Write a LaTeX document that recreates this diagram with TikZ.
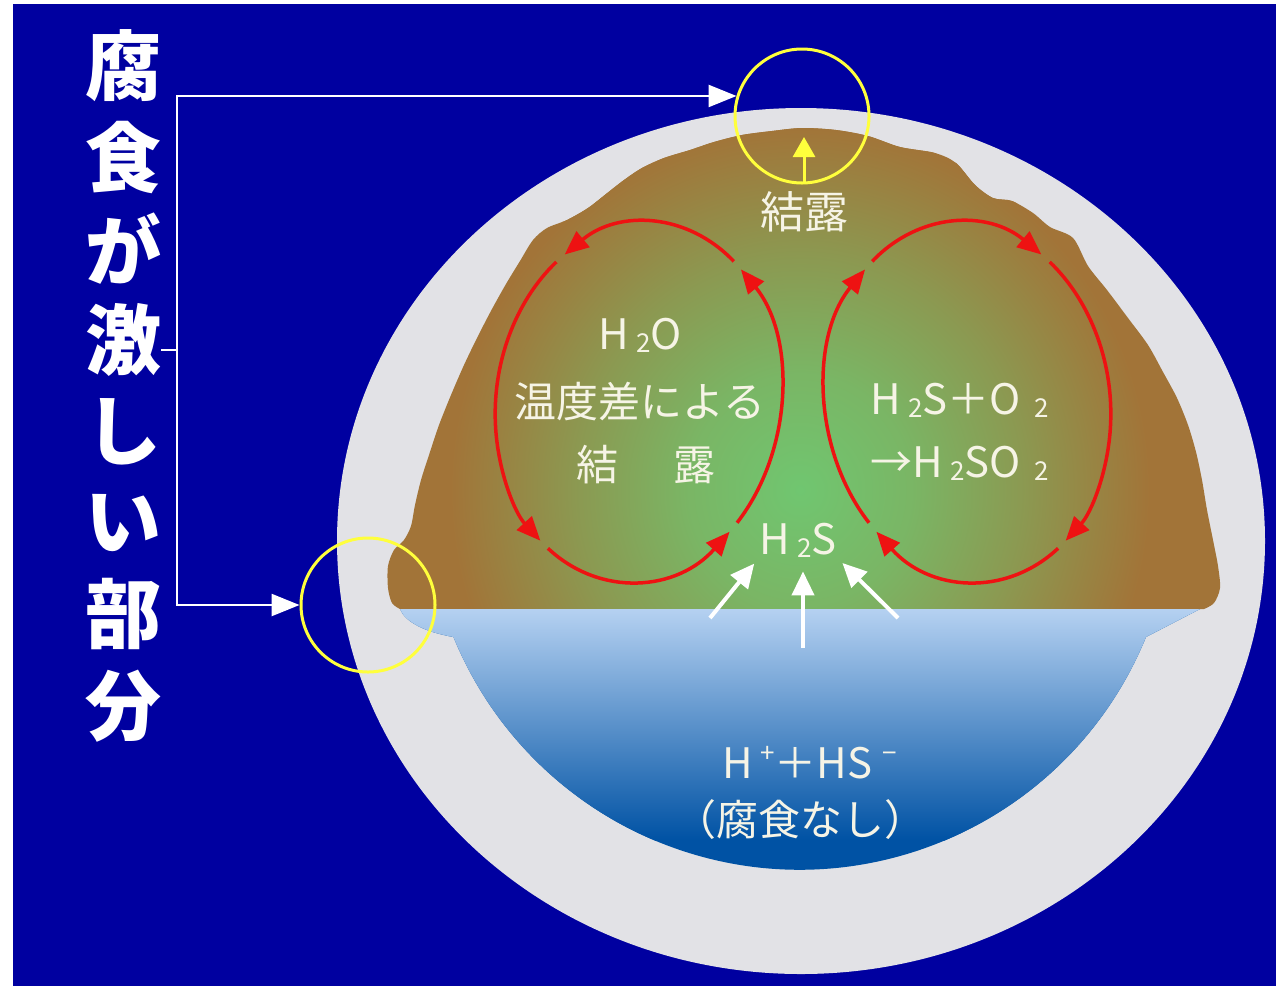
\documentclass[tikz,border=0pt]{standalone}
\usepackage{fontspec}
\newfontfamily\jp{Noto Sans CJK JP}
\usetikzlibrary{arrows.meta}

\definecolor{night}{RGB}{0,0,160}
\definecolor{wall}{RGB}{226,226,230}
\definecolor{rust}{RGB}{162,116,56}
\definecolor{moss}{RGB}{112,198,112}
\definecolor{shallow}{RGB}{188,214,244}
\definecolor{deep}{RGB}{0,82,164}
\definecolor{flow}{RGB}{238,18,18}
\definecolor{halo}{RGB}{255,255,60}
\definecolor{chalk}{RGB}{246,244,230}

% green glow fading into the brown crust
\pgfdeclareradialshading{glow}{\pgfpoint{0bp}{0bp}}{color(0bp)=(moss);
  color(8bp)=(moss!80!rust); color(16bp)=(moss!45!rust); color(25bp)=(rust);
  color(50bp)=(rust)}

% small digits and charges beside the letters
\newcommand\lowsub[1]{\raisebox{-3pt}{\fontsize{26}{26}\selectfont #1}}
\newcommand\highsup[1]{\raisebox{16pt}{\fontsize{26}{26}\selectfont #1}}

\begin{document}
\begin{tikzpicture}[x=1pt, y=-1pt,
  note/.style = {text=chalk, inner sep=0pt, font=\jp\fontsize{42}{48}\selectfont},
  side/.style = {text=white, inner sep=0pt, font=\jp\bfseries\fontsize{76}{80}\selectfont},
  spot/.style = {circle, draw=halo, line width=3pt, minimum size=134pt, inner sep=0pt},
  redflow/.style = {draw=flow, line width=3.5pt, -{Triangle[length=24pt,width=20pt]}},
  rise/.style = {draw=white, line width=4pt, -{Triangle[length=24pt,width=22pt]}},
  lift/.style = {draw=halo, line width=3pt, -{Triangle[length=20pt,width=22pt]}},
  link/.style = {draw=white, line width=2.5pt}]
\useasboundingbox (0,0) rectangle (1276,986);
\fill[white] (0,0) rectangle (1276,986);
\fill[night] (13,4) rectangle (1276,986);

% pipe wall
\fill[wall] (801,541) ellipse (464 and 433);

% air space under the corroded crown
\begin{scope}
  \clip plot[smooth, tension=0.5] coordinates {(400,609) (392,603) (388,588) (388,566)
    (394,550) (404,540) (411,526) (415,505) (421,480) (429,455) (439,425) (451,395)
    (464,365) (478,336) (492,309) (506,284) (520,261) (533,240) (547,228) (567,220)
    (588,208) (606,194) (624,180) (642,168) (664,158) (690,150) (714,142) (742,135)
    (772,131) (802,128) (836,130) (868,136) (900,147) (935,153) (956,163) (975,185)
    (993,198) (1012,201) (1033,213) (1050,227) (1073,238) (1088,266) (1107,290)
    (1128,318) (1148,345) (1163,372) (1177,398) (1188,425) (1196,452) (1202,480)
    (1207,510) (1213,540) (1218,566) (1220,588) (1214,603) (1204,609)} -- cycle;
  \fill[rust] (380,120) rectangle (1230,612);
  \shade[shading=glow] (800,490) ellipse (350 and 365);
\end{scope}

% sewage
\begin{scope}
  \clip (400,609) -- (1200,609) -- (1146,637)
    arc[start angle=22.2, end angle=157.8, radius=374]
    .. controls (425,632) and (405,622) .. (400,609) -- cycle;
  \fill[deep] (380,600) rectangle (1220,880);
  \shade[top color=shallow, bottom color=deep] (380,600) rectangle (1220,840);
\end{scope}

% the two cycles
\begin{scope}[rotate around={-8:(638,402)}]
  \foreach \s/\e in {36/-54, -58/-131, -135/-237, -241/-320}
    \draw[redflow] ([shift={(\s:142 and 180)}]638,402)
      arc[start angle=\s, end angle=\e, x radius=142, y radius=180];
\end{scope}
\begin{scope}[rotate around={8:(968,402)}]
  \foreach \s/\e in {-216/-126, -122/-49, -45/57, 61/140}
    \draw[redflow] ([shift={(\s:142 and 180)}]968,402)
      arc[start angle=\s, end angle=\e, x radius=142, y radius=180];
\end{scope}

\node[note, font=\jp\fontsize{44}{48}\selectfont] (cond) at (804,212) {結露};
\node[note] (dew1) at (640,335) {H\,\lowsub{2}O};
\node[note] (dew2) at (640,402) {温度差による};
\node[note] (dew3) at (646,465) {結\hspace{56pt}露};
\node[note] (acid1) at (960,400) {H\,\lowsub{2}S＋O\hspace{14pt}\lowsub{2}};
\node[note] (acid2) at (960,463) {→H\,\lowsub{2}SO\hspace{14pt}\lowsub{2}};
\node[note] (gas) at (798,540) {H\,\lowsub{2}S};
\node[note] (ion1) at (810,763) {H\,\highsup{+}＋HS\hspace{10pt}\highsup{−}};
\node[note] (ion2) at (800,820) {（腐食なし）};

\coordinate (wet) at (804,137);
\draw[lift] ([yshift=8pt]cond.north) -- (wet);

\coordinate (src1) at (710,618);
\coordinate (src2) at (803,648);
\coordinate (src3) at (898,618);
\draw[rise, shorten >=8pt] (src1) -- (gas.south west);
\draw[rise, shorten >=14pt] (src2) -- (src2 |- gas.south);
\draw[rise, shorten >=8pt] (src3) -- (gas.south east);

\node[spot] (spot1) at (802,116) {};
\node[spot] (spot2) at (368,605) {};

\foreach \kanji [count=\i] in {腐,食,が,激,し,い,部,分}
  \node[side] (c\i) at (123,{66+91.4*(\i-1)}) {\kanji};

\coordinate (fork) at (177,350);
\draw[link] (c4.east |- fork) -- (fork);
\draw[link, -{Triangle[length=28pt,width=22pt]}] (fork) |- (spot1.163);
\draw[link, -{Triangle[length=28pt,width=22pt]}] (fork) |- (spot2.west);
\end{tikzpicture}
\end{document}
